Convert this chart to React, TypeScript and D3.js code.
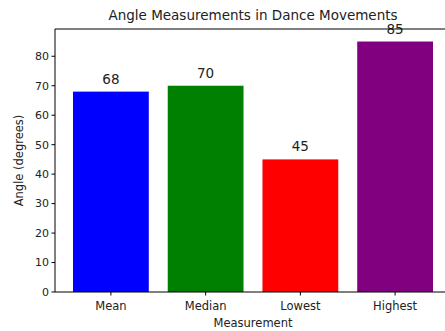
import React from "react";
import * as d3 from "d3";

const categories = ["Mean", "Median", "Lowest", "Highest"];
const values = [68, 70, 45, 85];
const colors = ["#0000ff", "#008000", "#ff0000", "#800080"];
const yTicks = [0, 10, 20, 30, 40, 50, 60, 70, 80];

export default function App() {
  const W = 445, H = 331;
  const left = 55, right = 451, top = 29, bottom = 292;
  const x = d3.scaleLinear().domain([-0.59, 3.59]).range([left, right]);
  const y = d3.scaleLinear().domain([0, 89.25]).range([bottom, top]);
  const font = "DejaVu Sans, sans-serif";
  const bw = x(0.4) - x(-0.4);
  return (
    <svg width={W} height={H} style={{ position: "absolute", left: 0, top: 0, background: "#fff" }} fontFamily={font}>
      <rect width={W} height={H} fill="#fff" />
      {values.map((v, i) => (
        <rect key={i} x={x(i) - bw / 2} y={y(v)} width={bw} height={y(0) - y(v)} fill={colors[i]} />
      ))}
      {values.map((v, i) => (
        <text key={"l" + i} x={x(i)} y={y(v) - 8} textAnchor="middle" fontSize={13.5} fill="#222">{v}</text>
      ))}
      <line x1={left} x2={right} y1={top} y2={top} stroke="#000" strokeWidth={1} />
      <line x1={left} x2={right} y1={bottom} y2={bottom} stroke="#000" strokeWidth={1} />
      <line x1={left} x2={left} y1={top} y2={bottom} stroke="#000" strokeWidth={1} />
      {yTicks.map((t) => (
        <g key={t}>
          <line x1={left - 3.5} x2={left} y1={y(t)} y2={y(t)} stroke="#000" />
          <text x={left - 6} y={y(t)} dy="0.35em" textAnchor="end" fontSize={11} fill="#222">{t}</text>
        </g>
      ))}
      {categories.map((c, i) => (
        <g key={c}>
          <line x1={x(i)} x2={x(i)} y1={bottom} y2={bottom + 3.5} stroke="#000" />
          <text x={x(i)} y={bottom + 18} textAnchor="middle" fontSize={11.5} fill="#222">{c}</text>
        </g>
      ))}
      <text x={(left + right) / 2} y={20} textAnchor="middle" fontSize={13.5} fill="#222">Angle Measurements in Dance Movements</text>
      <text x={(left + right) / 2} y={327} textAnchor="middle" fontSize={11.5} fill="#222">Measurement</text>
      <text transform={`translate(23, ${(top + bottom) / 2}) rotate(-90)`} textAnchor="middle" fontSize={11.5} fill="#222">Angle (degrees)</text>
    </svg>
  );
}
